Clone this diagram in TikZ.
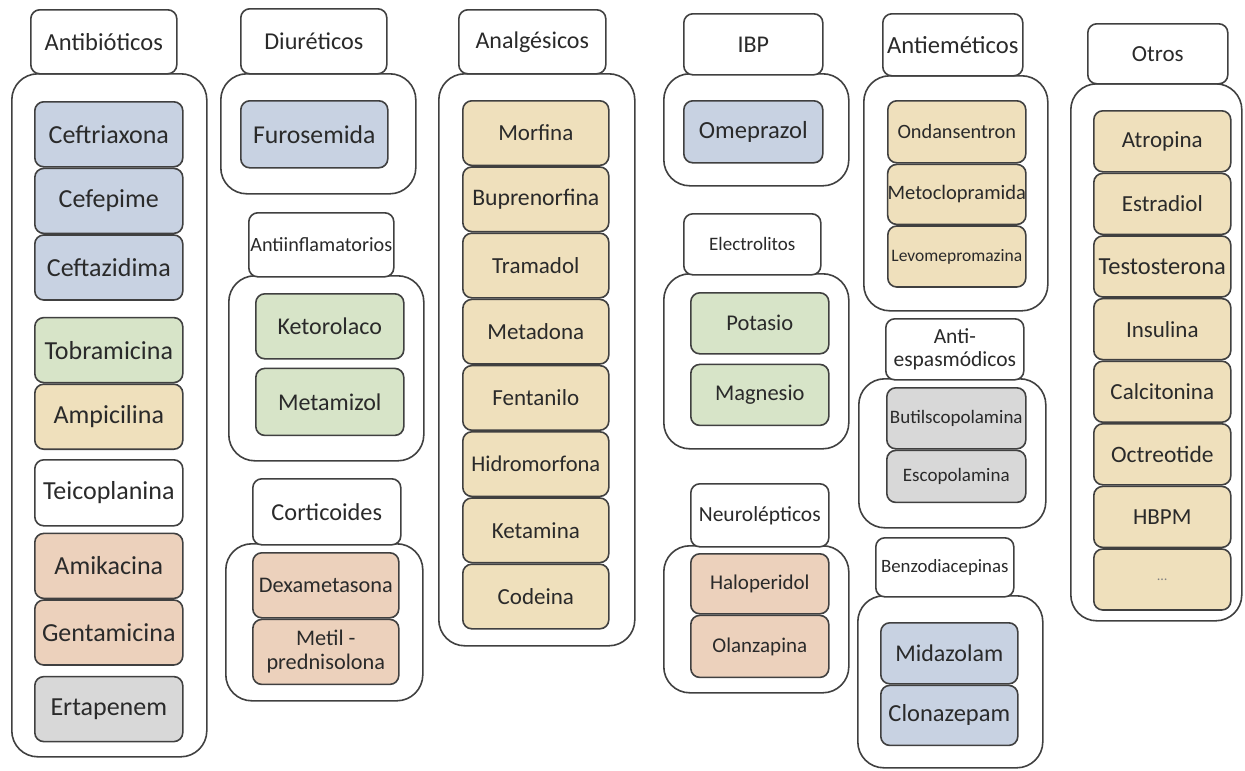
\documentclass[tikz,border=0pt]{standalone}
\usepackage{fontspec}
\setmainfont{Carlito}
\usetikzlibrary{positioning}
\definecolor{edgegray}{RGB}{64,64,64}
\definecolor{inkgray}{RGB}{42,42,42}
\definecolor{drugblue}{RGB}{200,210,226}
\definecolor{druggreen}{RGB}{215,228,200}
\definecolor{drugtan}{RGB}{239,224,188}
\definecolor{drugsalmon}{RGB}{236,209,188}
\definecolor{druggrey}{RGB}{216,216,216}
\tikzset{
  box/.style = {draw=edgegray, line width=1.6pt, rounded corners=9pt,
    inner sep=0pt, align=center, text=inkgray,
    font=\fontsize{23}{25}\selectfont},% caja basica
  small_text/.style = {font=\fontsize{19}{22}\selectfont},
  wh/.style 2 args = {minimum width=#1pt, minimum height=#2pt},
  header/.style = {box, fill=white, anchor=north west},% titulo de grupo
  group/.style = {box, rounded corners=26pt, fill=white,
    anchor=north west},% contenedor
  blue_drug/.style = {box, fill=drugblue},
  green_drug/.style = {box, fill=druggreen},
  tan_drug/.style = {box, fill=drugtan},
  salmon_drug/.style = {box, fill=drugsalmon},
  grey_drug/.style = {box, fill=druggrey},
  white_drug/.style = {box, fill=white}
}

\begin{document}
\begin{tikzpicture}[x=1pt, y=1pt]
  \useasboundingbox (0,0) rectangle (1245,-771);

  % Antibioticos
  \node[group, wh={195}{683}] (gAntibio) at (11,-73) {};
  \node[header, wh={146}{64}, font=\fontsize{24.5}{26}\selectfont] (hAntibio) at (30,-9) {Antibióticos};
  \node[blue_drug, anchor=north west, wh={148}{65}, font=\fontsize{26}{28}\selectfont] (ceftriaxona) at (34,-101) {Ceftriaxona};
  \node[blue_drug, wh={148}{65}, font=\fontsize{26}{28}\selectfont, below=0pt of ceftriaxona] (cefepime) {Cefepime};
  \node[blue_drug, wh={148}{65}, font=\fontsize{26}{28}\selectfont, below=0pt of cefepime] (ceftazidima) {Ceftazidima};
  \node[green_drug, wh={148}{65}, font=\fontsize{26}{28}\selectfont, below=16pt of ceftazidima] (tobramicina) {Tobramicina};
  \node[tan_drug, wh={148}{65}, font=\fontsize{26}{28}\selectfont, below=0pt of tobramicina] (ampicilina) {Ampicilina};
  \node[white_drug, wh={148}{66}, font=\fontsize{26}{28}\selectfont, below=9pt of ampicilina] (teicoplanina) {Teicoplanina};
  \node[salmon_drug, wh={148}{65}, font=\fontsize{26}{28}\selectfont, below=6pt of teicoplanina] (amikacina) {Amikacina};
  \node[salmon_drug, wh={148}{65}, font=\fontsize{26}{28}\selectfont, below=0pt of amikacina] (gentamicina) {Gentamicina};
  \node[grey_drug, wh={148}{65}, font=\fontsize{26}{28}\selectfont, below=10pt of gentamicina] (ertapenem) {Ertapenem};

  % Diureticos
  \node[group, wh={195}{120}] (gDiur) at (220,-73) {};
  \node[header, wh={146}{65}, font=\fontsize{24.2}{26}\selectfont] (hDiur) at (240,-8) {Diuréticos};
  \node[blue_drug, anchor=north west, wh={147}{67}, font=\fontsize{25.7}{28}\selectfont] (furosemida) at (240,-100) {Furosemida};

  % Antiinflamatorios
  \node[group, wh={195}{185}] (gAntiinf) at (228,-275) {};
  \node[header, wh={145}{64}, font=\fontsize{20.2}{22}\selectfont] (hAntiinf) at (248,-212) {Antiinflamatorios};
  \node[green_drug, anchor=north west, wh={148}{65}, font=\fontsize{24}{26}\selectfont] (ketorolaco) at (255,-293) {Ketorolaco};
  \node[green_drug, wh={148}{67}, font=\fontsize{24}{26}\selectfont, below=8pt of ketorolaco] (metamizol) {Metamizol};

  % Corticoides
  \node[group, wh={197}{157}] (gCortic) at (225,-543) {};
  \node[header, wh={148}{66}, font=\fontsize{24.3}{26}\selectfont] (hCortic) at (252,-478) {Corticoides};
  \node[salmon_drug, anchor=north west, wh={146}{65}, font=\fontsize{22.3}{24}\selectfont] (dexametasona) at (252,-552) {Dexametasona};
  \node[salmon_drug, wh={146}{65}, font=\fontsize{22.3}{24}\selectfont, below=0pt of dexametasona] (metilpred) {Metil -\\prednisolona};

  % Analgesicos
  \node[group, wh={196}{572}] (gAnalg) at (438,-73) {};
  \node[header, wh={147}{64}, font=\fontsize{24}{26}\selectfont] (hAnalg) at (458,-9) {Analgésicos};
  \node[tan_drug, anchor=north west, wh={146}{64.6}] (morfina) at (462,-100) {Morfina};
  \node[tan_drug, wh={146}{64.6}, font=\fontsize{23.7}{25}\selectfont, below=0pt of morfina] (buprenorfina) {Buprenorfina};
  \node[tan_drug, wh={146}{64.6}, below=0pt of buprenorfina] (tramadol) {Tramadol};
  \node[tan_drug, wh={146}{64.6}, below=0pt of tramadol] (metadona) {Metadona};
  \node[tan_drug, wh={146}{64.6}, below=0pt of metadona] (fentanilo) {Fentanilo};
  \node[tan_drug, wh={146}{64.6}, font=\fontsize{22.5}{24}\selectfont, below=0pt of fentanilo] (hidromorfona) {Hidromorfona};
  \node[tan_drug, wh={146}{64.6}, below=0pt of hidromorfona] (ketamina) {Ketamina};
  \node[tan_drug, wh={146}{64.6}, below=0pt of ketamina] (codeina) {Codeina};

  % IBP
  \node[group, wh={185}{112}] (gIbp) at (663,-73) {};
  \node[header, wh={139}{61}, font=\fontsize{24}{26}\selectfont] (hIbp) at (683,-13) {IBP};
  \node[blue_drug, anchor=north west, wh={139}{62}, font=\fontsize{24.6}{26}\selectfont] (omeprazol) at (683,-100) {Omeprazol};

  % Electrolitos
  \node[group, wh={185}{175}] (gElectro) at (663,-273) {};
  \node[header, wh={137}{61}, small_text] (hElectro) at (683,-213) {Electrolitos};
  \node[green_drug, anchor=north west, wh={138}{61}, font=\fontsize{22.5}{24}\selectfont] (potasio) at (690,-292) {Potasio};
  \node[green_drug, wh={138}{61}, font=\fontsize{22.5}{24}\selectfont, below=9pt of potasio] (magnesio) {Magnesio};

  % Neurolepticos
  \node[group, wh={185}{147}] (gNeuro) at (663,-545) {};
  \node[header, wh={138}{63}, font=\fontsize{21.5}{23}\selectfont] (hNeuro) at (690,-483) {Neurolépticos};
  \node[salmon_drug, anchor=north west, wh={138}{60}, font=\fontsize{21}{23}\selectfont] (haloperidol) at (690,-553) {Haloperidol};
  \node[salmon_drug, wh={138}{62}, font=\fontsize{21}{23}\selectfont, below=0pt of haloperidol] (olanzapina) {Olanzapina};

  % Antiemeticos
  \node[group, wh={184}{235}] (gAntiem) at (863,-75) {};
  \node[header, wh={140}{62}, font=\fontsize{24.6}{26}\selectfont] (hAntiem) at (882,-13) {Antieméticos};
  \node[tan_drug, anchor=north west, wh={138}{62}, font=\fontsize{20.3}{22}\selectfont] (ondansentron) at (887,-100) {Ondansentron};
  \node[tan_drug, wh={138}{60}, font=\fontsize{20.5}{22}\selectfont, below=0pt of ondansentron] (metoclopramida) {Metoclopramida};
  \node[tan_drug, wh={138}{61}, font=\fontsize{17.5}{20}\selectfont, below=0pt of metoclopramida] (levomepromazina) {Levomepromazina};

  % Antiespasmodicos
  \node[group, wh={187}{149}] (gAntiesp) at (858,-378) {};
  \node[header, wh={138}{61}, font=\fontsize{21.5}{23}\selectfont] (hAntiesp) at (885,-318) {Anti-\\espasmódicos};
  \node[grey_drug, anchor=north west, wh={139}{61}, small_text] (butilscopolamina) at (886,-387) {Butilscopolamina};
  \node[grey_drug, wh={139}{52}, small_text, below=0pt of butilscopolamina] (escopolamina) {Escopolamina};

  % Benzodiacepinas
  \node[group, wh={185}{172}] (gBenzo) at (857,-595) {};
  \node[header, wh={138}{59}, font=\fontsize{18.8}{21}\selectfont] (hBenzo) at (875,-537) {Benzodiacepinas};
  \node[blue_drug, anchor=north west, wh={137}{61}, font=\fontsize{24}{26}\selectfont] (midazolam) at (880,-622) {Midazolam};
  \node[blue_drug, wh={137}{60}, font=\fontsize{24.5}{26}\selectfont, below=0pt of midazolam] (clonazepam) {Clonazepam};

  % Otros
  \node[group, wh={171}{537}] (gOtros) at (1070,-83) {};
  \node[header, wh={140}{60}] (hOtros) at (1087,-23) {Otros};
  \node[tan_drug, anchor=north west, wh={137}{61}] (atropina) at (1093,-110) {Atropina};
  \node[tan_drug, wh={137}{61}, below=0pt of atropina] (estradiol) {Estradiol};
  \node[tan_drug, wh={137}{61}, font=\fontsize{24.5}{26}\selectfont, below=0pt of estradiol] (testosterona) {Testosterona};
  \node[tan_drug, wh={137}{61}, below=0pt of testosterona] (insulina) {Insulina};
  \node[tan_drug, wh={137}{61}, below=0pt of insulina] (calcitonina) {Calcitonina};
  \node[tan_drug, wh={137}{61}, font=\fontsize{23.5}{25}\selectfont, below=0pt of calcitonina] (octreotide) {Octreotide};
  \node[tan_drug, wh={137}{61}, below=0pt of octreotide] (hbpm) {HBPM};
  \node[tan_drug, wh={137}{61}, font=\fontsize{14}{16}\selectfont, text=gray, below=0pt of hbpm] (etc) {\dots};
\end{tikzpicture}
\end{document}
